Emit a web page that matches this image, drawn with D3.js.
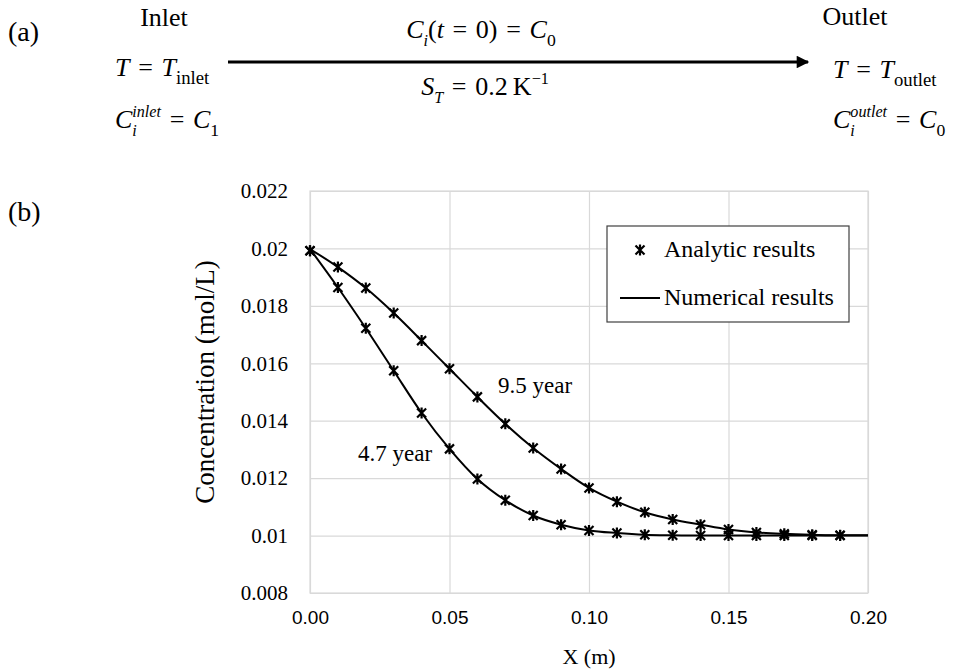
<!DOCTYPE html>
<html>
<head>
<meta charset="utf-8">
<script src="https://cdn.jsdelivr.net/npm/d3@7"></script>
<style>
  body { margin: 0; background: #fff; }
  svg { display: block; }
</style>
</head>
<body>
<div id="chart"></div>
<script>
// ---------- data ----------
const xAnalytic = [0.00, 0.01, 0.02, 0.03, 0.04, 0.05, 0.06, 0.07, 0.08, 0.09,
                   0.10, 0.11, 0.12, 0.13, 0.14, 0.15, 0.16, 0.17, 0.18, 0.19];
const analytic95 = [0.01992, 0.01935, 0.01862, 0.01775, 0.01679, 0.01581, 0.01483, 0.01389, 0.01305, 0.01232,
                    0.01166, 0.01118, 0.01081, 0.01056, 0.01038, 0.01021, 0.01011, 0.01006, 0.01003, 0.01001];
const analytic47 = [0.01992, 0.01864, 0.01722, 0.01574, 0.01427, 0.01302, 0.01197, 0.01123, 0.01070, 0.01038,
                    0.01018, 0.01009, 0.01003, 0.01001, 0.01000, 0.01000, 0.01000, 0.01000, 0.01000, 0.01000];

const xNumerical = [0.00, 0.01, 0.02, 0.03, 0.04, 0.05, 0.06, 0.07, 0.08, 0.09, 0.10,
                    0.11, 0.12, 0.13, 0.14, 0.15, 0.16, 0.17, 0.18, 0.19, 0.20];
const numerical95 = [0.01998, 0.01935, 0.01862, 0.01775, 0.01679, 0.01581, 0.01483, 0.01389, 0.01305, 0.01232, 0.01166,
                     0.01118, 0.01081, 0.01056, 0.01038, 0.01021, 0.01011, 0.01006, 0.01003, 0.01001, 0.01001];
const numerical47 = [0.01998, 0.01864, 0.01722, 0.01574, 0.01427, 0.01302, 0.01197, 0.01123, 0.01070, 0.01038, 0.01018,
                     0.01009, 0.01003, 0.01001, 0.01000, 0.01000, 0.01000, 0.01000, 0.01000, 0.01000, 0.01000];

const yTicks = [0.008, 0.010, 0.012, 0.014, 0.016, 0.018, 0.020, 0.022];
const xTicks = [0.00, 0.05, 0.10, 0.15, 0.20];
const seriesLabels = ['9.5 year', '4.7 year'];
const legendLabels = ['Analytic results', 'Numerical results'];

// ---------- setup ----------
const W = 956, H = 672;
const serif = '"Liberation Serif", "Times New Roman", serif';
const sans = '"Liberation Sans", Arial, sans-serif';

const svg = d3.select('#chart').append('svg')
    .attr('width', W)
    .attr('height', H)
    .attr('viewBox', `0 0 ${W} ${H}`);

svg.append('rect').attr('width', W).attr('height', H).attr('fill', '#fff');

// plot area
const plot = {left: 310, right: 868, top: 191, bottom: 593};

const xScale = d3.scaleLinear().domain([0, 0.2]).range([plot.left, plot.right]);
const yScale = d3.scaleLinear().domain([0.008, 0.022]).range([plot.bottom, plot.top]);

// ---------- part (a): schematic ----------

// writes a row of math pieces one after another, measuring each
// piece: {t, it, size, shift, over}  over -> stacked on previous piece
function mathRow(g, x, y, pieces, base) {
    let cx = x, lastStart = x, lastW = 0;
    pieces.forEach(p => {
        const size = (p.size || 1) * base;
        const px = p.over ? lastStart : cx;
        const t = g.append('text')
            .attr('x', px)
            .attr('y', y - (p.shift || 0) * base)
            .style('font-family', serif)
            .style('font-size', size + 'px')
            .style('font-style', p.it ? 'italic' : 'normal')
            .attr('fill', '#000')
            .attr('xml:space', 'preserve')
            .text(p.t);
        const w = t.node().getComputedTextLength();
        if (p.over) {
            cx = lastStart + Math.max(lastW, w);
        } else {
            lastStart = cx;
            lastW = w;
            cx += w;
        }
    });
    return g;
}

const partA = svg.append('g');

partA.append('text').attr('x', 8).attr('y', 41)
    .style('font-family', serif).style('font-size', '28px').text('(a)');
partA.append('text').attr('x', 8).attr('y', 221)
    .style('font-family', serif).style('font-size', '28px').text('(b)');

partA.append('text').attr('x', 164).attr('y', 26).attr('text-anchor', 'middle')
    .style('font-family', serif).style('font-size', '26px').text('Inlet');
partA.append('text').attr('x', 855).attr('y', 25).attr('text-anchor', 'middle')
    .style('font-family', serif).style('font-size', '26px').text('Outlet');

const sub = 0.62, subShift = -0.3, supShift = 0.42;
const eq = '\u2004=\u2004';
const base = 26;

mathRow(partA.append('g'), 115, 76, [
    {t: 'T', it: true}, {t: eq}, {t: 'T', it: true},
    {t: 'inlet', size: sub + 0.1, shift: subShift}
], base);

mathRow(partA.append('g'), 115, 128, [
    {t: 'C', it: true}, {t: 'i', it: true, size: sub, shift: subShift},
    {t: 'inlet', it: true, size: sub, shift: supShift, over: true},
    {t: eq}, {t: 'C', it: true}, {t: '1', size: sub + 0.06, shift: subShift}
], base);

mathRow(partA.append('g'), 833, 78, [
    {t: 'T', it: true}, {t: eq}, {t: 'T', it: true},
    {t: 'outlet', size: sub + 0.1, shift: subShift}
], base);

mathRow(partA.append('g'), 833, 128, [
    {t: 'C', it: true}, {t: 'i', it: true, size: sub, shift: subShift},
    {t: 'outlet', it: true, size: sub, shift: supShift, over: true},
    {t: eq}, {t: 'C', it: true}, {t: '0', size: sub + 0.06, shift: subShift}
], base);

// centred rows above and below the arrow
function centredRow(cx, y, pieces, base) {
    const g = mathRow(partA.append('g'), 0, y, pieces, base);
    const bb = g.node().getBBox();
    g.attr('transform', `translate(${cx - bb.width / 2 - bb.x},0)`);
}

centredRow(481, 38, [
    {t: 'C', it: true}, {t: 'i', it: true, size: sub, shift: subShift},
    {t: '('}, {t: 't', it: true}, {t: eq + '0)' + eq},
    {t: 'C', it: true}, {t: '0', size: sub + 0.06, shift: subShift}
], base);

centredRow(485, 95, [
    {t: 'S', it: true}, {t: 'T', it: true, size: sub, shift: subShift},
    {t: eq + '0.2\u2009K'}, {t: '\u22121', size: sub, shift: supShift}
], base);

// arrow
svg.append('defs').append('marker')
    .attr('id', 'arrowHead')
    .attr('viewBox', '0 0 10 10')
    .attr('refX', 9).attr('refY', 5)
    .attr('markerWidth', 5).attr('markerHeight', 4.2)
    .attr('markerUnits', 'strokeWidth')
    .attr('orient', 'auto')
    .append('path').attr('d', 'M0,0L10,5L0,10Z').attr('fill', '#000');

partA.append('line')
    .attr('x1', 228).attr('x2', 808)
    .attr('y1', 62).attr('y2', 62)
    .attr('stroke', '#000').attr('stroke-width', 3)
    .attr('marker-end', 'url(#arrowHead)');

// ---------- part (b): chart ----------

// gridlines
const gridY = svg.append('g')
    .attr('transform', `translate(${plot.left},0)`)
    .call(d3.axisLeft(yScale).tickValues(yTicks).tickSize(-(plot.right - plot.left)).tickFormat(''));
const gridX = svg.append('g')
    .attr('transform', `translate(0,${plot.bottom})`)
    .call(d3.axisBottom(xScale).tickValues(xTicks).tickSize(-(plot.bottom - plot.top)).tickFormat(''));
[gridX, gridY].forEach(g => {
    g.select('.domain').remove();
    g.selectAll('line').attr('stroke', '#d9d9d9').attr('stroke-width', 1.2);
});

// plot border
svg.append('rect')
    .attr('x', plot.left).attr('y', plot.top)
    .attr('width', plot.right - plot.left).attr('height', plot.bottom - plot.top)
    .attr('fill', 'none').attr('stroke', '#d9d9d9').attr('stroke-width', 1.2);

// tick labels
const yAxis = svg.append('g')
    .attr('transform', `translate(${plot.left},0)`)
    .call(d3.axisLeft(yScale).tickValues(yTicks).tickSize(0).tickPadding(22)
        .tickFormat(d => String(+d.toFixed(3))))
    .attr('font-family', serif)
    .attr('font-size', 21);
yAxis.select('.domain').remove();
yAxis.selectAll('text')
    .style('font-family', serif).style('font-size', '21px').attr('fill', '#000');

const xAxis = svg.append('g')
    .attr('transform', `translate(0,${plot.bottom})`)
    .call(d3.axisBottom(xScale).tickValues(xTicks).tickSize(0).tickPadding(18)
        .tickFormat(d3.format('.2f')))
    .attr('font-family', sans)
    .attr('font-size', 19);
xAxis.select('.domain').remove();
xAxis.selectAll('text')
    .style('font-family', sans).style('font-size', '19px').attr('fill', '#000');

// axis titles
svg.append('text')
    .attr('x', 589).attr('y', 664).attr('text-anchor', 'middle')
    .style('font-family', serif).style('font-size', '22px')
    .text('X (m)');
svg.append('text')
    .attr('transform', `translate(214,${(plot.top + plot.bottom) / 2 - 10}) rotate(-90)`)
    .attr('text-anchor', 'middle')
    .style('font-family', serif).style('font-size', '27px')
    .text('Concentration (mol/L)');

// numerical lines
const line = d3.line()
    .x(d => xScale(d[0]))
    .y(d => yScale(d[1]))
    .curve(d3.curveMonotoneX);

[numerical95, numerical47].forEach(vals => {
    svg.append('path')
        .datum(xNumerical.map((x, i) => [x, vals[i]]))
        .attr('d', line)
        .attr('fill', 'none')
        .attr('stroke', '#000')
        .attr('stroke-width', 2);
});

// analytic markers (star: x plus vertical bar)
const star = 'M-4.5,-4.5L4.5,4.5M-4.5,4.5L4.5,-4.5M0,-5.5L0,5.5';

[analytic95, analytic47].forEach(vals => {
    svg.append('g').selectAll('path')
        .data(xAnalytic.map((x, i) => [x, vals[i]]))
        .join('path')
        .attr('transform', d => `translate(${xScale(d[0])},${yScale(d[1])})`)
        .attr('d', star)
        .attr('fill', 'none')
        .attr('stroke', '#000')
        .attr('stroke-width', 2.2);
});

// curve labels
svg.append('text').attr('x', 498).attr('y', 393)
    .style('font-family', serif).style('font-size', '23px').text(seriesLabels[0]);
svg.append('text').attr('x', 358).attr('y', 461)
    .style('font-family', serif).style('font-size', '23px').text(seriesLabels[1]);

// ---------- legend ----------
const legend = svg.append('g');
legend.append('rect')
    .attr('x', 607).attr('y', 226).attr('width', 242).attr('height', 96)
    .attr('fill', '#fff').attr('stroke', '#404040').attr('stroke-width', 1.2);
legend.append('path')
    .attr('transform', 'translate(640,250)')
    .attr('d', star).attr('fill', 'none').attr('stroke', '#000').attr('stroke-width', 2.2);
legend.append('line')
    .attr('x1', 620).attr('x2', 660).attr('y1', 298).attr('y2', 298)
    .attr('stroke', '#000').attr('stroke-width', 2);
legend.selectAll('text.lg')
    .data(legendLabels)
    .join('text')
    .attr('class', 'lg')
    .attr('x', 664)
    .attr('y', (d, i) => 257 + i * 48)
    .style('font-family', serif).style('font-size', '24px')
    .text(d => d);
</script>
</body>
</html>
